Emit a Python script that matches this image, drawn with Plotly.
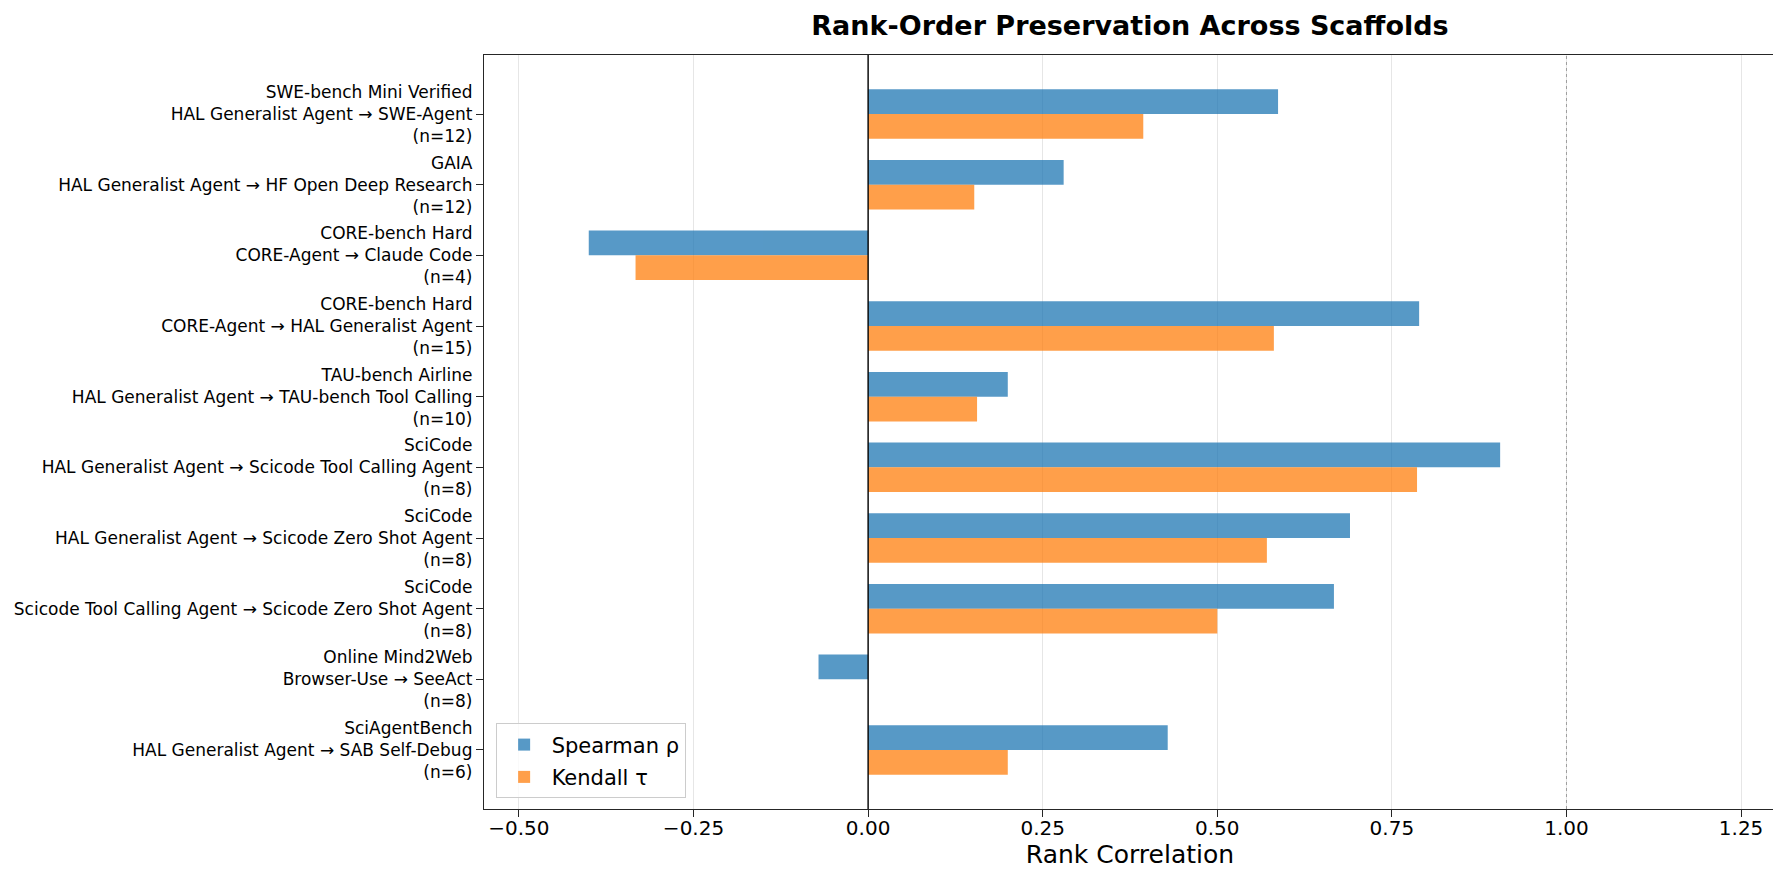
import plotly.graph_objects as go

# ------------------ DATA ------------------
benchmarks = [
    "SWE-bench Mini Verified", "GAIA", "CORE-bench Hard", "CORE-bench Hard",
    "TAU-bench Airline", "SciCode", "SciCode", "SciCode",
    "Online Mind2Web", "SciAgentBench",
]
scaffold_pairs = [
    "HAL Generalist Agent → SWE-Agent",
    "HAL Generalist Agent → HF Open Deep Research",
    "CORE-Agent → Claude Code",
    "CORE-Agent → HAL Generalist Agent",
    "HAL Generalist Agent → TAU-bench Tool Calling",
    "HAL Generalist Agent → Scicode Tool Calling Agent",
    "HAL Generalist Agent → Scicode Zero Shot Agent",
    "Scicode Tool Calling Agent → Scicode Zero Shot Agent",
    "Browser-Use → SeeAct",
    "HAL Generalist Agent → SAB Self-Debug",
]
n_models = [12, 12, 4, 15, 10, 8, 8, 8, 8, 6]
spearman = [0.587, 0.280, -0.400, 0.789, 0.200, 0.905, 0.690, 0.667, -0.071, 0.429]
kendall = [0.394, 0.152, -0.333, 0.581, 0.156, 0.786, 0.571, 0.500, 0.000, 0.200]

x_ticks = [-0.50, -0.25, 0.00, 0.25, 0.50, 0.75, 1.00, 1.25]

labels = [f"{b}<br>{p}<br>(n={n})" for b, p, n in zip(benchmarks, scaffold_pairs, n_models)]
positions = list(range(len(labels)))

FONT = "DejaVu Sans"
SPINE = "#262626"

# ------------------ FIGURE ------------------
fig = go.Figure()

fig.add_trace(go.Bar(
    y=positions,
    x=spearman,
    orientation="h",
    name="Spearman ρ",
    legendgroup="rho",
    marker=dict(color="#1f77b4", line=dict(width=0)),
    opacity=0.75,
))
fig.add_trace(go.Bar(
    y=positions,
    x=kendall,
    orientation="h",
    name="Kendall τ",
    legendgroup="tau",
    marker=dict(color="#ff7f0e", line=dict(width=0)),
    opacity=0.75,
))

# zero line and perfect-correlation reference
fig.add_shape(type="line", xref="x", yref="paper", x0=0, x1=0, y0=0, y1=1,
              line=dict(color="black", width=1.4), layer="above")
fig.add_shape(type="line", xref="x", yref="paper", x0=1, x1=1, y0=0, y1=1,
              line=dict(color="#8c8c8c", width=0.8, dash="dot"), layer="above")

# ------------------ LAYOUT ------------------
fig.update_layout(
    width=1781,
    height=883,
    margin=dict(l=476, r=13, t=47, b=82),
    paper_bgcolor="white",
    plot_bgcolor="white",
    font=dict(family=FONT, color="black"),
    barmode="group",
    bargap=0.3,
    bargroupgap=0,
    title=dict(
        text="<b>Rank-Order Preservation Across Scaffolds</b>",
        x=0.5, xref="paper", xanchor="center",
        y=1 - 18 / 883, yref="container", yanchor="middle",
        font=dict(size=27, family=FONT, color="black"),
    ),
    xaxis=dict(
        range=[-0.55, 1.30],
        tickvals=x_ticks,
        tickformat=".2f",
        ticks="outside", ticklen=7, tickwidth=1.2, tickcolor=SPINE,
        tickfont=dict(size=20, family=FONT, color="black"),
        ticklabelstandoff=-6,
        showgrid=True, gridcolor="#e6e6e6", gridwidth=1,
        zeroline=False,
        showline=True, linecolor=SPINE, linewidth=1.3, mirror=True,
        title=dict(text="Rank Correlation", standoff=2,
                   font=dict(size=25, family=FONT, color="black")),
    ),
    yaxis=dict(
        range=[9.835, -0.835],
        tickvals=positions,
        ticktext=labels,
        automargin=False,
        ticks="outside", ticklen=7, tickwidth=1.2, tickcolor=SPINE,
        tickfont=dict(size=17, family=FONT, color="black"),
        showgrid=False,
        zeroline=False,
        showline=True, linecolor=SPINE, linewidth=1.3, mirror=True,
    ),
    legend=dict(
        x=0.009, y=0.014, xanchor="left", yanchor="bottom",
        bgcolor="rgba(255,255,255,0.8)",
        bordercolor="#cccccc", borderwidth=1,
        font=dict(size=21, family=FONT, color="black"),
        itemsizing="constant",
        itemwidth=45,
        tracegroupgap=2,
    ),
)

fig.write_html("out.html")
